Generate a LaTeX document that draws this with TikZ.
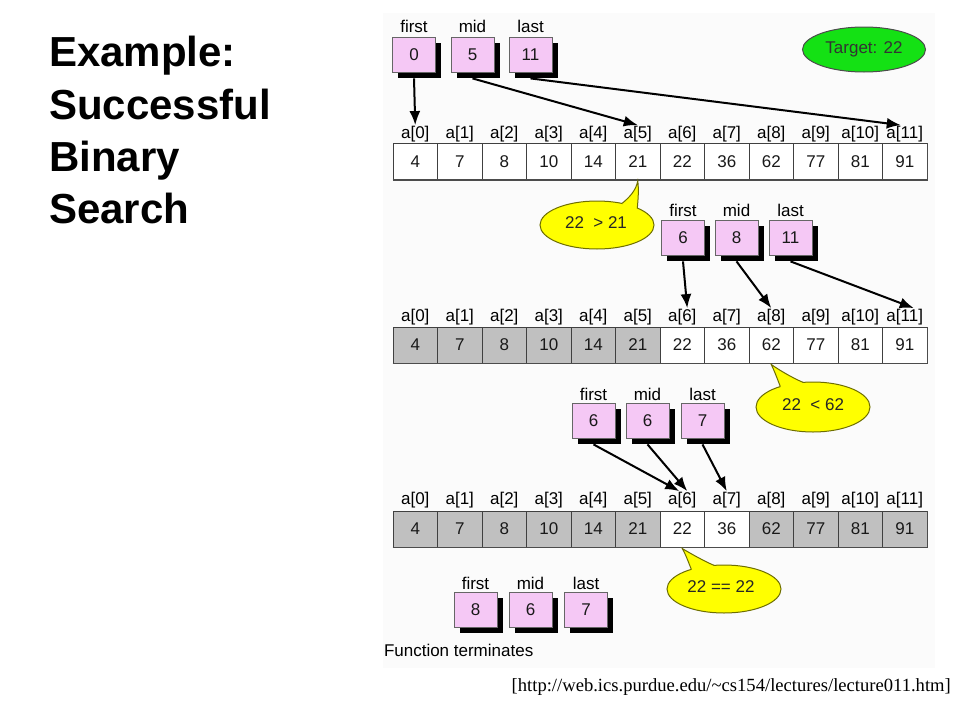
\documentclass[tikz,border=0pt]{standalone}
\usepackage{fontspec}
\setmainfont{Liberation Sans}
\newfontfamily\timesf{Liberation Serif}
\usetikzlibrary{arrows.meta,shadows,shapes.geometric}
\definecolor{pinkc}{RGB}{245,200,245}
\definecolor{cellgray}{RGB}{192,192,192}
\definecolor{bubyel}{RGB}{255,255,0}
\definecolor{bubedge}{RGB}{110,110,0}
\definecolor{targetg}{RGB}{20,225,20}
\definecolor{bgpanel}{RGB}{251,251,251}
\begin{document}
\begin{tikzpicture}[x=1pt,y=-1pt,
  lab/.style={font=\fontsize{17}{20}\selectfont, inner sep=0pt, outer sep=1pt},
  cell/.style={draw=black!75, line width=1pt, minimum width=44.5pt, minimum height=36pt, inner sep=0pt, font=\fontsize{17}{20}\selectfont, text=black!90},
  ptr/.style={draw=black!60, line width=0.8pt, fill=pinkc, minimum width=43pt, minimum height=35pt, inner sep=0pt, font=\fontsize{17}{20}\selectfont, text=black!90, general shadow={fill=black, shadow xshift=5.5pt, shadow yshift=-5.5pt}},
  arr/.style={line width=2pt, -{Latex[length=14pt,width=11pt]}},
  bub/.style={fill=bubyel, draw=bubedge, line width=1pt},
  tail/.style={draw=bubedge, line width=1pt},
  edge/.style={draw=black!70, line width=1.8pt},
  title/.style={font=\bfseries\fontsize{42}{50}\selectfont, anchor=base west, inner sep=0pt},
]
\useasboundingbox (0,0) rectangle (960,720);
\fill[bgpanel] (383,13) rectangle (935,668);

% title
\node[title] (t1) at (49,66.7) {Example:};
\node[title] (t2) at (49,119.5) {Successful};
\node[title] (t3) at (49,171.7) {Binary};
\node[title] (t4) at (49,223) {Search};

% arrays
\foreach \v [count=\i from 0] in {4,7,8,10,14,21,22,36,62,77,81,91} {
  \pgfmathsetmacro\cx{393+44.5*(\i+0.5)}
  \node[cell, fill=white] (c1-\i) at (\cx,161.5) {\v};
  \node[lab] (l1-\i) at (\cx,134) {a[\i]};
  \ifnum\i<6 \def\fc{cellgray}\else\def\fc{white}\fi
  \node[cell, fill=\fc] (c2-\i) at (\cx,345) {\v};
  \node[lab] (l2-\i) at (\cx,317) {a[\i]};
  \ifnum\i<6 \def\fc{cellgray}\else\ifnum\i>7 \def\fc{cellgray}\else\def\fc{white}\fi\fi
  \node[cell, fill=\fc] (c3-\i) at (\cx,529) {\v};
  \node[lab] (l3-\i) at (\cx,500) {a[\i]};
}
\foreach \r in {1,2,3} {
  \draw[edge] (c\r-0.south west) -- (c\r-11.south east) -- (c\r-11.north east);
}

% target
\node[ellipse, draw=black!70, line width=1pt, fill=targetg, minimum width=123pt, minimum height=45pt, inner sep=0pt, font=\fontsize{17}{20}\selectfont, text=black!80] (tgt) at (864,49.5) {Target: 22};

% pointer row 1
\node[ptr] (p1f) at (414,54.5) {0};
\node[ptr] (p1m) at (472.5,54.5) {5};
\node[ptr] (p1l) at (530.5,54.5) {11};
\node[lab] (p1fl) at (414,26) {first};
\node[lab] (p1ml) at (472.5,26) {mid};
\node[lab] (p1ll) at (530.5,26) {last};
\draw[arr] ([yshift=-6pt]p1f.south) -- (l1-0.north);
\draw[arr] ([yshift=-6pt]p1m.south) -- (l1-5.north);
\draw[arr] ([yshift=-6pt]p1l.south) -- ([xshift=-4pt]l1-11.north);

% pointer row 2
\node[ptr] (p2f) at (683,237.5) {6};
\node[ptr] (p2m) at (736.5,237.5) {8};
\node[ptr] (p2l) at (790.5,237.5) {11};
\node[lab] (p2fl) at (683,210) {first};
\node[lab] (p2ml) at (736.5,210) {mid};
\node[lab] (p2ll) at (790.5,210) {last};
\draw[arr] ([yshift=-6pt]p2f.south) -- ([xshift=5pt]l2-6.north);
\draw[arr] ([yshift=-6pt]p2m.south) -- (l2-8.north);
\draw[arr] ([yshift=-6pt]p2l.south) -- ([xshift=9pt]l2-11.north);

% pointer row 3
\node[ptr] (p3f) at (593.5,420.5) {6};
\node[ptr] (p3m) at (647.5,420.5) {6};
\node[ptr] (p3l) at (702.5,420.5) {7};
\node[lab] (p3fl) at (593.5,394) {first};
\node[lab] (p3ml) at (647.5,394) {mid};
\node[lab] (p3ll) at (702.5,394) {last};
\draw[arr] ([yshift=-6pt]p3f.south) -- ([xshift=-3pt]l3-6.north);
\draw[arr] ([yshift=-6pt]p3m.south) -- ([xshift=5pt]l3-6.north);
\draw[arr] ([yshift=-6pt]p3l.south) -- (l3-7.north);

% pointer row 4
\node[ptr] (p4f) at (475.5,609.5) {8};
\node[ptr] (p4m) at (530.5,609.5) {6};
\node[ptr] (p4l) at (586,609.5) {7};
\node[lab] (p4fl) at (475.5,583) {first};
\node[lab] (p4ml) at (530.5,583) {mid};
\node[lab] (p4ll) at (586,583) {last};

% bubble 1
\draw[bub] (597,225) ellipse [x radius=57, y radius=24];
\fill[bubyel] (622,203.4) .. controls (630,197) and (636,190) .. ([yshift=-1pt]c1-5.south) .. controls (639,190) and (638,200) .. (637.3,208) -- (628,214) -- cycle;
\draw[tail] (622,203.4) .. controls (630,197) and (636,190) .. ([yshift=-1pt]c1-5.south) .. controls (639,190) and (638,200) .. (637.3,208);
\node[lab, text=black!85] (b1t) at (596,223) {22\ \ > 21};

% bubble 2
\draw[bub] (813,407) ellipse [x radius=57, y radius=25];
\fill[bubyel] (780.3,386.5) .. controls (777,378) and (774,370) .. ([yshift=-1pt]c2-8.south) .. controls (782,372) and (795,379) .. (803.1,382.4) -- (795,395) -- cycle;
\draw[tail] (780.3,386.5) .. controls (777,378) and (774,370) .. ([yshift=-1pt]c2-8.south) .. controls (782,372) and (795,379) .. (803.1,382.4);
\node[lab, text=black!85] (b2t) at (813,405) {22\ \ < 62};

% bubble 3
\draw[bub] (724,589) ellipse [x radius=57, y radius=24];
\fill[bubyel] (691.3,569.3) .. controls (688,561) and (685,553) .. ([yshift=-1pt]c3-6.south) .. controls (693,555) and (706,562) .. (714.1,565.4) -- (705,578) -- cycle;
\draw[tail] (691.3,569.3) .. controls (688,561) and (685,553) .. ([yshift=-1pt]c3-6.south) .. controls (693,555) and (706,562) .. (714.1,565.4);
\node[lab, text=black!85] (b3t) at (721,587) {22 == 22};

% footer texts
\node[lab, anchor=west] (ft) at (383,650) {Function terminates};
\node[font=\timesf\fontsize{18.6}{22}\selectfont, anchor=east, inner sep=0pt] (cite) at (951,687) {[http://web.ics.purdue.edu/\textasciitilde cs154/lectures/lecture011.htm]};
\end{tikzpicture}
\end{document}
